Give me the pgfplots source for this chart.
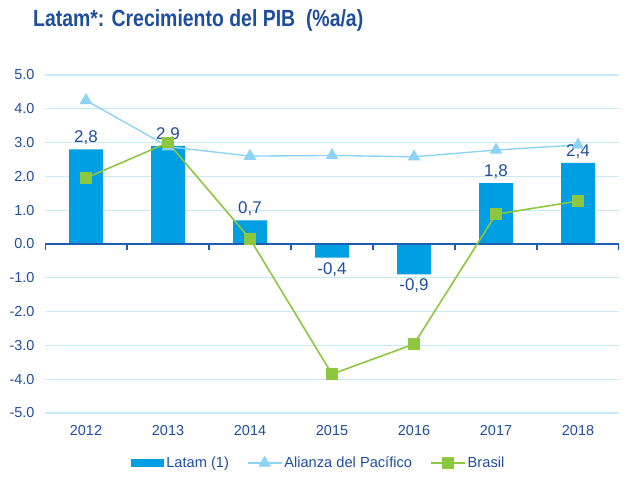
\documentclass[border=0pt]{standalone}
\usepackage{pgfplots}
\pgfplotsset{compat=1.18}
\usepackage{graphicx}
\usepackage{fontspec}
\setmainfont{Liberation Sans}
\definecolor{barblue}{HTML}{009FE3}
\definecolor{alblue}{HTML}{8DD3F5}
\definecolor{brgreen}{HTML}{8DC63F}
\definecolor{txtblue}{HTML}{1F4E9C}
\definecolor{axblue}{HTML}{1F5DB0}
\definecolor{gridblue}{HTML}{C8E9F8}
\begin{document}
\begin{tikzpicture}[x=1bp,y=1bp]
\useasboundingbox (0,0) rectangle (633,478);
\node[anchor=base west, text=txtblue, inner sep=0pt] at (33,451) {\scalebox{0.83}[1]{\fontsize{23.5}{27}\selectfont\bfseries Latam*: Crecimiento del PIB\ \ (\%a/a)}};
\begin{axis}[
  at={(45bp,65bp)}, anchor=south west,
  scale only axis, width=574bp, height=338bp,
  xmin=-0.5, xmax=6.5, ymin=-5, ymax=5,
  axis line style={draw=none},
  xtick={0,...,6},
  xticklabels={2012,2013,2014,2015,2016,2017,2018},
  ytick={-5,-4,...,5},
  major tick length=0pt,
  ymajorgrids,
  grid style={gridblue, line width=1.3pt},
  tick label style={text=txtblue, font=\fontsize{14.5}{16}\selectfont},
  /pgf/number format/assume math mode=true,
  yticklabel={\pgfmathprintnumber[assume math mode=true,fixed,fixed zerofill,precision=1]{\tick}},
  yticklabel style={xshift=-7bp},
  xticklabel style={yshift=-9bp},
  legend columns=3,
  legend style={at={(0.477,-0.148)}, anchor=center, draw=none, fill=none,
    font=\fontsize{14.7}{16}\selectfont, text=txtblue,
    /tikz/every even column/.append style={column sep=16bp}},
  legend cell align=left,
]
\addplot[ybar, bar width=34bp, fill=barblue, draw=none, bar shift=0pt,
  nodes near coords,
  nodes near coords style={text=txtblue, font=\fontsize{17}{19}\selectfont, inner sep=4.5bp,
    /pgf/number format/.cd, use comma, fixed, fixed zerofill, precision=1, assume math mode=true},
  legend image code/.code={\fill[barblue] (0bp,-4bp) rectangle (33bp,4bp);}]
  coordinates {(0,2.8) (1,2.9) (2,0.7) (3,-0.4) (4,-0.9) (5,1.8) (6,2.4)};
\addlegendentry{Latam (1)}
\draw[axblue, line width=1.3pt] (axis cs:-0.5,0) -- (axis cs:6.5,0);
\pgfplotsinvokeforeach{-0.5,0.5,1.5,2.5,3.5,4.5,5.5,6.5}{
  \draw[axblue, line width=1.1pt] (axis cs:#1,0) -- ++(0bp,-6bp);
}
\addplot[alblue, line width=1.4pt, mark=triangle*, mark size=6bp,
  mark options={fill=alblue, draw=alblue},
  legend image code/.code={\draw[alblue, line width=1.4pt] (0bp,0bp) -- (34bp,0bp);
    \fill[alblue] (17bp,0bp) +(90:6bp) -- +(210:6bp) -- +(330:6bp) -- cycle;}]
  coordinates {(0,4.25) (1,2.88) (2,2.6) (3,2.62) (4,2.58) (5,2.78) (6,2.93)};
\addlegendentry{Alianza del Pacífico}
\addplot[brgreen, line width=1.6pt, mark=square*, mark size=5bp,
  mark options={fill=brgreen, draw=brgreen},
  legend image code/.code={\draw[brgreen, line width=1.6pt] (0bp,0bp) -- (34bp,0bp);
    \fill[brgreen] (12bp,-5bp) rectangle (22bp,5bp);}]
  coordinates {(0,1.95) (1,3.0) (2,0.15) (3,-3.85) (4,-2.96) (5,0.88) (6,1.27)};
\addlegendentry{Brasil}
\end{axis}
\end{tikzpicture}
\end{document}
